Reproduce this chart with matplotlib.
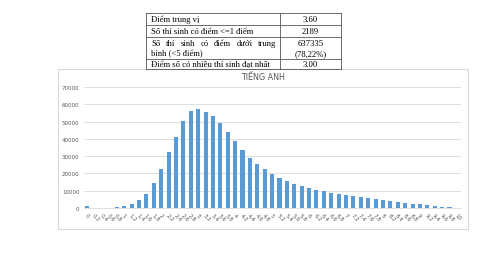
import matplotlib.pyplot as plt
from matplotlib.patches import Rectangle

# score categories 0, 0.2, ... 10
scores = ['0', '0.2', '0.4', '0.6', '0.8', '1', '1.2', '1.4', '1.6', '1.8',
          '2', '2.2', '2.4', '2.6', '2.8', '3', '3.2', '3.4', '3.6', '3.8',
          '4', '4.2', '4.4', '4.6', '4.8', '5', '5.2', '5.4', '5.6', '5.8',
          '6', '6.2', '6.4', '6.6', '6.8', '7', '7.2', '7.4', '7.6', '7.8',
          '8', '8.2', '8.4', '8.6', '8.8', '9', '9.2', '9.4', '9.6', '9.8', '10']
counts = [1000, 20, 30, 150, 400, 1200, 2300, 4400, 8200, 14200,
          22300, 32300, 41300, 50200, 56200, 57500, 55400, 53100, 49000, 43800,
          38600, 33800, 29200, 25600, 22300, 19400, 17300, 15400, 13800, 12900,
          11300, 10200, 9800, 8800, 8100, 7500, 6700, 6200, 5800, 5000,
          4600, 4000, 3500, 3100, 2500, 2100, 1500, 1000, 600, 300, 100]
yticks = [0, 10000, 20000, 30000, 40000, 50000, 60000, 70000]

title = 'TIẾNG ANH'
table_left = ['Điểm trung vị', 'Số thí sinh có điểm <=1 điểm',
              'Số thí sinh có điểm dưới trung\nbình (<5 điểm)',
              'Điểm số có nhiều thí sinh đạt nhất']
table_right = ['3.60', '2189', '637335\n(78,22%)', '3.00']

W, H = 480, 255
fig = plt.figure(figsize=(W / 100, H / 100), dpi=100)
fig.patch.set_facecolor('white')

def fx(px):
    return px / W

def fy(py):
    return 1 - py / H

# chart frame
fig.add_artist(Rectangle((fx(58), fy(230)), fx(468) - fx(58), fy(70) - fy(230),
                         transform=fig.transFigure, fill=False,
                         edgecolor='#d9d9d9', linewidth=0.8))

ax = fig.add_axes([fx(83.6), fy(209), fx(460.6) - fx(83.6), fy(88) - fy(209)])
x = range(len(scores))
ax.bar(x, counts, width=0.55, color='#5b9bd5', zorder=3)
ax.set_xlim(-0.5, len(scores) - 0.5)
ax.set_ylim(0, 70000)
ax.set_yticks(yticks)
ax.set_yticklabels([str(v) for v in yticks], fontsize=4, color='#595959')
ax.set_xticks(list(x))
ax.set_xticklabels(scores, fontsize=4, color='#595959', rotation=-45,
                   ha='left', va='top', rotation_mode='anchor')
ax.tick_params(length=0, pad=3)
ax.grid(axis='y', color='#d9d9d9', linewidth=0.6, zorder=0)
for s in ['top', 'right', 'left']:
    ax.spines[s].set_visible(False)
ax.spines['bottom'].set_color('#d9d9d9')
ax.spines['bottom'].set_linewidth(0.6)

fig.text(fx(263), fy(77), title, fontsize=5.8, color='#595959',
         ha='center', va='center')

# table above the chart
row_lines = [14, 26, 38, 60, 70]
tl, tm, tr = 146, 280, 341
serif = 'Liberation Serif'
fs = 6.2
for yl in row_lines:
    fig.add_artist(plt.Line2D([fx(tl), fx(tr)], [fy(yl), fy(yl)],
                              transform=fig.transFigure, color='#555555', lw=0.6))
for xl in [tl, tm, tr]:
    fig.add_artist(plt.Line2D([fx(xl), fx(xl)], [fy(row_lines[0]), fy(row_lines[-1])],
                              transform=fig.transFigure, color='#555555', lw=0.6))

renderer = fig.canvas.get_renderer()
for i in range(len(table_left)):
    yc = (row_lines[i] + row_lines[i + 1]) / 2 + 2.2  # baseline
    lines = table_left[i].split('\n')
    n = len(lines)
    for j, line in enumerate(lines):
        ly = yc + (j - (n - 1) / 2) * 10
        words = line.split(' ')
        if n > 1 and j < n - 1:
            # justified line: spread words between the cell edges
            arts = [fig.text(0, fy(ly), w, fontsize=fs, family=serif,
                             ha='left', va='baseline') for w in words]
            widths = [a.get_window_extent(renderer).width for a in arts]
            gap = ((tm - 4) - 151 - sum(widths)) / (len(words) - 1)
            pos = 151
            for a, wd in zip(arts, widths):
                a.set_x(fx(pos))
                pos += wd + gap
        else:
            fig.text(fx(151), fy(ly), line, fontsize=fs, family=serif,
                     ha='left', va='baseline')
    rl = table_right[i].split('\n')
    for j, line in enumerate(rl):
        ly = yc + (j - (len(rl) - 1) / 2) * 10
        fig.text(fx((tm + tr) / 2), fy(ly), line, fontsize=fs, family=serif,
                 ha='center', va='baseline')

fig.savefig('out.png', dpi=100)
